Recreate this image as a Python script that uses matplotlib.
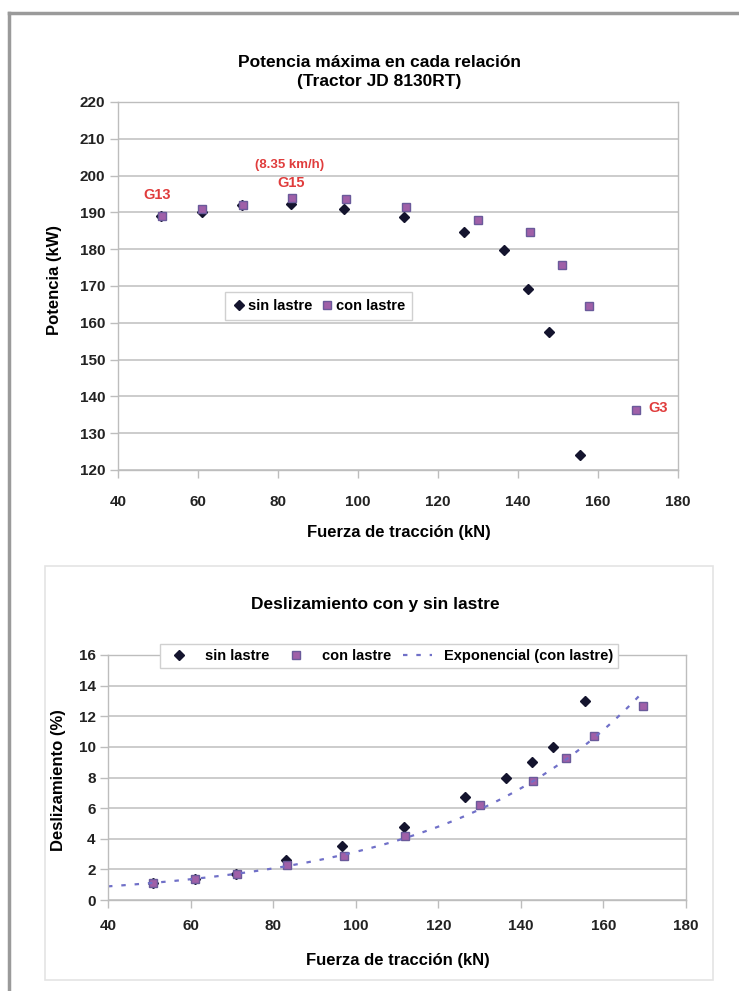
import numpy as np
import matplotlib
matplotlib.use('Agg')
import matplotlib.pyplot as plt
from matplotlib.patches import Rectangle
from matplotlib.lines import Line2D

plt.rcParams['font.family'] = ['Liberation Sans', 'DejaVu Sans']

# Fuerza de traccion (kN) for each gear, with and without ballast
fuerza_sin = [50.8, 61.0, 71.0, 83.2, 96.6, 111.6, 126.4, 136.4, 142.6, 147.8, 155.6]
fuerza_con = [50.9, 61.1, 71.2, 83.4, 97.1, 112.0, 130.0, 142.9, 150.9, 157.8, 169.6]

# Potencia maxima (kW)
potencia_sin = [189.0, 190.0, 192.0, 192.3, 190.8, 188.8, 184.7, 179.7, 169.3, 157.5, 124.2]
potencia_con = [189.0, 191.0, 192.0, 194.0, 193.7, 191.5, 188.0, 184.8, 175.6, 164.6, 136.3]

# Deslizamiento (%)
desliz_sin = [1.1, 1.4, 1.7, 2.6, 3.5, 4.8, 6.7, 8.0, 9.0, 10.0, 13.0]
desliz_con = [1.1, 1.35, 1.7, 2.3, 2.9, 4.2, 6.2, 7.8, 9.3, 10.7, 12.65]

# gear labels in red
etiquetas = ['G13', '(8.35 km/h)', 'G15', 'G3']
etiq_x = [49.7, 83.0, 83.3, 175.0]
etiq_y = [194.7, 202.9, 197.9, 136.8]

W, H = 739, 991
fig = plt.figure(figsize=(W / 100, H / 100), dpi=100)
fig.patch.set_facecolor('white')


def px_axes(left, top, right, bottom):
    return fig.add_axes([left / W, 1 - bottom / H, (right - left) / W, (bottom - top) / H])


def px_text(x, y, s, **kw):
    fig.text(x / W, 1 - y / H, s, ha='center', va='center', fontweight='bold', **kw)


# outer frame (top and left edges only, as in the scan)
fig.add_artist(Line2D([9 / W, 9 / W], [0, 1 - 13 / H], color='#9a9a9a', lw=2.5,
                      transform=fig.transFigure))
fig.add_artist(Line2D([9 / W, 1], [1 - 13 / H, 1 - 13 / H], color='#9a9a9a', lw=2.5,
                      transform=fig.transFigure))
# faint chart-area box of the lower chart
fig.add_artist(Rectangle((45 / W, 1 - 980 / H), (713 - 45) / W, (980 - 566) / H,
                         transform=fig.transFigure, fill=False, ec='#e4e4e4', lw=1.2))

sin_kw = dict(marker='D', color='#14142e', markersize=5, linestyle='none')
con_kw = dict(marker='s', markerfacecolor='#a060a8', markeredgecolor='#6a5a9a',
              markersize=6, linestyle='none')


def style_axes(ax, xpad):
    ax.set_xlim(40, 180)
    ax.set_xticks(range(40, 181, 20))
    ax.grid(axis='y', color='#c8c8c8', lw=1.3)
    ax.set_axisbelow(True)
    for s in ax.spines.values():
        s.set_color('#bdbdbd')
        s.set_linewidth(1.0)
    ax.tick_params(direction='out', length=6, color='#bdbdbd', width=1,
                   labelsize=11, labelcolor='#222222')
    ax.tick_params(axis='y', pad=3)
    ax.tick_params(axis='x', pad=xpad)
    for lab in ax.get_xticklabels() + ax.get_yticklabels():
        lab.set_fontweight('bold')


leg_kw = dict(frameon=True, fancybox=False, edgecolor='#d0d0d0', framealpha=1,
              prop={'size': 10.5, 'weight': 'bold'}, bbox_transform=fig.transFigure,
              loc='center')

# ---- top chart: potencia ----
ax1 = px_axes(118, 102, 678, 470)
ax1.plot(fuerza_sin, potencia_sin, label='sin lastre', **sin_kw)
ax1.plot(fuerza_con, potencia_con, label='con lastre', **con_kw)
ax1.set_ylim(120, 220)
ax1.set_yticks(range(120, 221, 10))
style_axes(ax1, 12)
px_text(379, 72, 'Potencia máxima en cada relación\n(Tractor JD 8130RT)',
        fontsize=12.5, linespacing=1.3)
px_text(399, 533, 'Fuerza de tracción (kN)', fontsize=12)
px_text(55, 280, 'Potencia (kW)', fontsize=12, rotation=90)
for t, x, y in zip(etiquetas, etiq_x, etiq_y):
    ax1.text(x, y, t, color='#e03c3c', fontsize=10.5 if t.startswith('G') else 9.5,
             fontweight='bold', ha='center', va='center')
ax1.legend(bbox_to_anchor=(318.5 / W, 1 - 306 / H), ncol=2, handletextpad=0.1,
           columnspacing=0.5, handlelength=1.0, borderpad=0.45, **leg_kw)

# ---- bottom chart: deslizamiento ----
ax2 = px_axes(108, 655, 686, 900)
ax2.plot(fuerza_sin, desliz_sin, label='sin lastre', **sin_kw)
ax2.plot(fuerza_con, desliz_con, label='con lastre', **con_kw)
b, ln_a = np.polyfit(fuerza_con, np.log(desliz_con), 1)
xt = np.linspace(40, 169, 100)
ax2.plot(xt, np.exp(ln_a) * np.exp(b * xt), linestyle=(0, (2, 4)), color='#7070c8',
         lw=1.6, label='Exponencial (con lastre)')
ax2.set_ylim(0, 16)
ax2.set_yticks(range(0, 17, 2))
style_axes(ax2, 8)
px_text(375, 605, 'Deslizamiento con y sin lastre', fontsize=12.5)
px_text(398, 960, 'Fuerza de tracción (kN)', fontsize=12)
px_text(58, 780, 'Deslizamiento (%)', fontsize=12, rotation=90)
ax2.legend(bbox_to_anchor=(389 / W, 1 - 656 / H), ncol=3, handletextpad=0.8,
           columnspacing=0.8, handlelength=2.0, borderpad=0.35, **leg_kw)

fig.savefig('out.png', dpi=100)
